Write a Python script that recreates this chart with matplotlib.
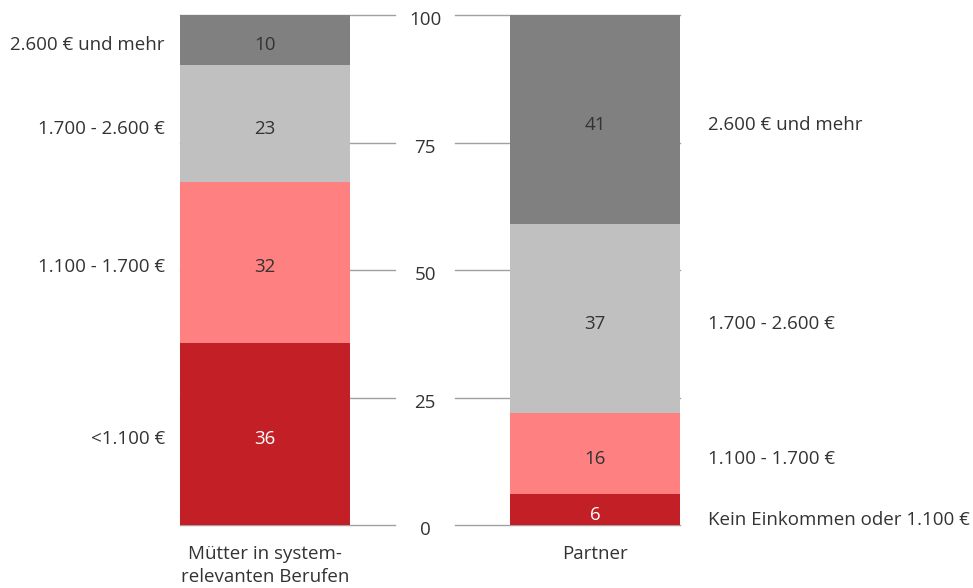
import matplotlib.pyplot as plt
import numpy as np

plt.rcParams['font.family'] = ['Open Sans', 'DejaVu Sans']

bar_names = ["Mütter in system-\nrelevanten Berufen", "Partner"]
left_labels = ["<1.100 €", "1.100 - 1.700 €", "1.700 - 2.600 €", "2.600 € und mehr"]
right_labels = ["Kein Einkommen oder 1.100 €", "1.100 - 1.700 €", "1.700 - 2.600 €", "2.600 € und mehr"]
muetter = [36, 32, 23, 10]
partner = [6, 16, 37, 41]
colors = ["#c21f26", "#ff8080", "#c0c0c0", "#808080"]
text_colors = ["white", "#333333", "#333333", "#333333"]
ticks = [0, 25, 50, 75, 100]

fig = plt.figure(figsize=(9.73, 5.88), dpi=100)
ax = fig.add_axes([0, 0, 1, 1])
ax.set_xlim(0, 973)
ax.set_ylim(-63 / 5.1, 100 + 15 / 5.1)
ax.axis('off')

xs = [265, 595]
w = 170
tc = "#333333"
fs = 13.5
dy = -0.6  # text sits a little below the centre

# gridlines, broken around the tick labels
for t in ticks:
    ax.plot([180, 395], [t, t], color="#a0a0a0", lw=1, zorder=1)
    ax.plot([455, 680], [t, t], color="#a0a0a0", lw=1, zorder=1)
    ax.text(425, t + dy, str(t), ha='center', va='center_baseline', fontsize=fs, color=tc)

for i, vals in enumerate([muetter, partner]):
    v = np.array(vals, dtype=float)
    scaled = v / v.sum() * 100
    bottoms = np.concatenate([[0], np.cumsum(scaled)[:-1]])
    for j in range(len(v)):
        ax.bar(xs[i], scaled[j], bottom=bottoms[j], width=w, color=colors[j], zorder=2)
        mid = bottoms[j] + scaled[j] / 2
        ax.text(xs[i], mid + dy, str(vals[j]), ha='center', va='center_baseline', fontsize=fs,
                color=text_colors[j], zorder=3)
        if i == 0:
            ax.text(165, mid + dy, left_labels[j], ha='right', va='center_baseline',
                    fontsize=fs, color=tc)
        else:
            nudge = -1.1 if j == 0 else 0
            ax.text(708, mid + dy + nudge, right_labels[j], ha='left', va='center_baseline',
                    fontsize=fs, color=tc)
    ax.text(xs[i], -3.9, bar_names[i], ha='center', va='top', fontsize=fs, color=tc,
            linespacing=1.4)

fig.savefig("out.png", dpi=100)
